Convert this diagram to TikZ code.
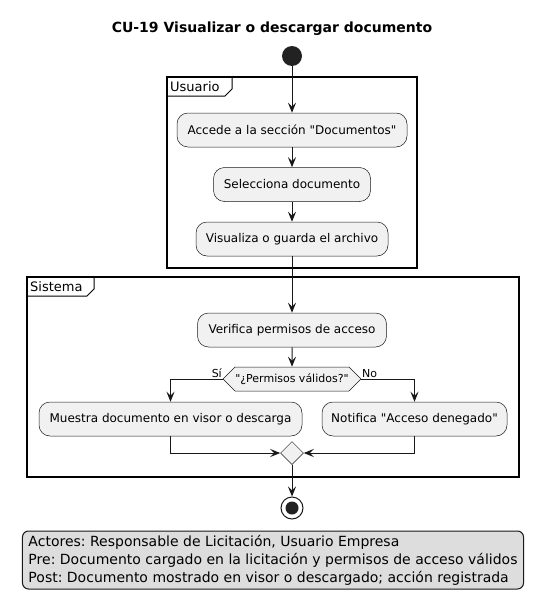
\documentclass[tikz,border=0pt]{standalone}
\usepackage{fontspec}
\setmainfont{DejaVu Sans}[Ligatures=TeXReset]
\usetikzlibrary{arrows.meta,shapes.geometric,shapes.symbols}
\definecolor{ln}{HTML}{181818}
\definecolor{actfill}{HTML}{F1F1F1}
\definecolor{notefill}{HTML}{DDDDDD}
\definecolor{dot}{HTML}{222222}
\newcommand{\dq}{\char34{}}
\frenchspacing
\begin{document}
\begin{tikzpicture}[x=1pt,y=-1pt,
  act/.style={draw=ln,line width=0.5pt,fill=actfill,rounded corners=11pt,
    minimum height=34pt,inner sep=0pt,font=\fontsize{12}{14}\selectfont},
  arr/.style={draw=ln,line width=1pt,-{Stealth[length=10pt,width=8pt,inset=4pt]}},
  framebox/.style={draw=black,line width=1.5pt},
  tab/.style={draw=black,line width=1pt},
  lbl/.style={font=\fontsize{11}{13}\selectfont,inner sep=0pt},
  tablbl/.style={font=\fontsize{13}{15}\selectfont,inner sep=0pt,anchor=west}]
\useasboundingbox (0,0) rectangle (546,613);
% title
\node[font=\bfseries\fontsize{14}{16}\selectfont] (title) at (272,29) {CU-19 Visualizar o descargar documento};
% frames
\draw[framebox] (167,77) rectangle (417,268);
\draw[tab] (167,96) -- (225,96) -- (232,89) -- (232,77);
\node[tablbl] (tabU) at (170,86.5) {Usuario};
\draw[framebox] (27,277) rectangle (519,477);
\draw[tab] (27,296) -- (87,296) -- (94,289) -- (94,277);
\node[tablbl] (tabS) at (30,286.5) {Sistema};
% nodes
\node[circle,fill=dot,minimum size=20pt,inner sep=0pt] (start) at (292,56) {};
\node[act,minimum width=230pt] (a1) at (292,130) {Accede a la sección \dq Documentos\dq};
\node[act,minimum width=157pt] (a2) at (292,184.5) {Selecciona documento};
\node[act,minimum width=192pt] (a3) at (292,239) {Visualiza o guarda el archivo};
\node[act,minimum width=189pt] (a4) at (292,330) {Verifica permisos de acceso};
\node[signal,signal to=west and east,draw=ln,line width=0.5pt,fill=actfill,
  minimum height=24pt,minimum width=138pt,inner sep=0pt,
  font=\fontsize{11}{13}\selectfont] (dec) at (292,379) {\dq ¿Permisos válidos?\dq};
\node[act,minimum width=263pt] (m1) at (170.5,419) {Muestra documento en visor o descarga};
\node[act,minimum width=185pt] (m2) at (414.5,419) {Notifica \dq Acceso denegado\dq};
\node[diamond,draw=ln,line width=0.5pt,fill=actfill,minimum size=23pt,inner sep=0pt] (merge) at (292,453) {};
\node[circle,draw=ln,line width=1pt,fill=white,minimum size=22pt,inner sep=0pt] (end) at (292,508) {};
\node[circle,fill=dot,minimum size=13pt,inner sep=0pt] (endin) at (292,508) {};
% labels
\node[lbl,anchor=south east] (si) at (222,378) {Sí};
\node[lbl,anchor=south west] (no) at (362,378) {No};
% connectors
\draw[arr] (start) -- (a1);
\draw[arr] (a1) -- (a2);
\draw[arr] (a2) -- (a3);
\draw[arr] (a3) -- (a4);
\draw[arr] (a4) -- (dec);
\draw[arr] (dec.west) -| (m1.north);
\draw[arr] (dec.east) -| (m2.north);
\draw[arr] (m1.south) |- (merge.west);
\draw[arr] (m2.south) |- (merge.east);
\draw[arr] (merge.south) -- (end);
% note
\node[draw=ln,line width=1pt,fill=notefill,rounded corners=6pt,align=left,
  minimum height=58pt,inner xsep=6pt,inner ysep=0pt,
  font=\fontsize{14}{18}\selectfont] (note) at (273,560)
  {Actores: Responsable de Licitación, Usuario Empresa\\
   Pre: Documento cargado en la licitación y permisos de acceso válidos\\
   Post: Documento mostrado en visor o descargado; acción registrada};
\end{tikzpicture}
\end{document}
